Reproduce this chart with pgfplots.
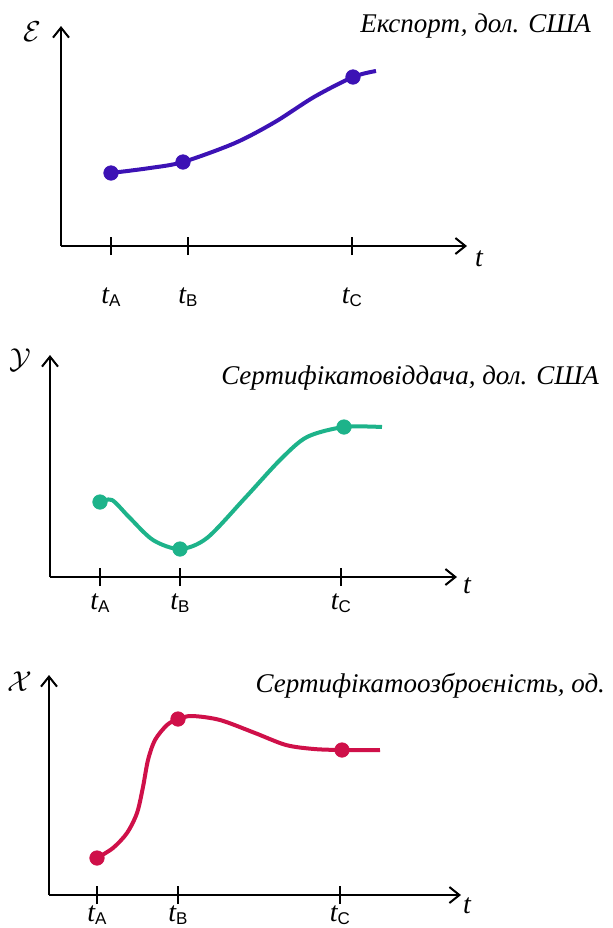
\documentclass[border=0pt]{standalone}
\usepackage{fontspec}
\setmainfont{Liberation Serif}
\setsansfont{Liberation Sans}
\usepackage{pgfplots}
\pgfplotsset{compat=1.18}
\usetikzlibrary{arrows.meta}

\definecolor{exportblue}{HTML}{3C12B5}
\definecolor{certgreen}{HTML}{1DB38A}
\definecolor{certred}{HTML}{CF1049}

\newcommand\tl[1]{{\fontsize{14}{14}\selectfont\textit{t}\kern-0.3pt\raisebox{-1.5pt}{\fontsize{8.5}{8.5}\sffamily #1}}}
\newcommand\ttl{\fontsize{13.5}{13.5}\selectfont\itshape}

\pgfplotsset{
  sketch/.style={
    scale only axis, anchor=south west, clip=false,
    axis lines*=left,
    axis line style={line width=1pt, black, -{Straight Barb[length=5pt,width=8pt,line width=1pt]}},
    xmin=0, ymin=0,
    ytick=\empty,
    tick align=center, major tick length=9pt,
    xtick style={line width=1pt, black},
    xticklabels={\tl{A},\tl{B},\tl{C}},
    xticklabel style={anchor=center},
  },
  curve/.style={line width=2pt, smooth},
  dots/.style={only marks, mark=*, mark size=3.6pt},
}

\begin{document}
\begin{tikzpicture}
\useasboundingbox (0,0) rectangle (306.5pt,-464pt);

% --- export
\begin{axis}[sketch, at={(30.5pt,-123pt)}, width=203pt, height=110pt,
  xmax=406, ymax=220, xtick={50,127,291},
  xticklabel style={yshift=-21pt}]
  \addplot[curve, exportblue] coordinates {(50,73) (89,78) (122,84) (174,103) (214,124) (253,149) (292,169) (315,175)};
  \addplot[dots, exportblue, mark options={fill=exportblue}] coordinates {(50,73) (122,84) (292,169)};
  \node at (axis cs:406,0) [xshift=6pt, yshift=-7pt] {\tl{}};
  \node at (axis cs:0,220) [xshift=-14.5pt, yshift=-3pt] {\fontsize{14}{14}\selectfont$\mathcal{E}$};
\end{axis}
\node[anchor=east] at (299pt,-13pt) {\ttl Експорт, дол. США};

% --- certificate return
\begin{axis}[sketch, at={(25pt,-288.5pt)}, width=203.5pt, height=111pt,
  xmax=407, ymax=222, xtick={50,130,291},
  xticklabel style={yshift=-8.5pt}]
  \addplot[curve, certgreen] coordinates {(50,75) (62,77) (79,60) (103,37) (130,28) (157,39) (195,79) (230,117) (257,140) (294,150) (332,150)};
  \addplot[dots, certgreen, mark options={fill=certgreen}] coordinates {(50,75) (130,28) (294,150)};
  \node at (axis cs:407,0) [xshift=5pt, yshift=-5pt] {\tl{}};
  \node at (axis cs:0,222) [xshift=-15pt, yshift=-2.5pt] {\fontsize{14}{14}\selectfont$\mathcal{Y}$};
\end{axis}
\node[anchor=east] at (303pt,-189pt) {\ttl Сертифікатовіддача, дол. США};

% --- certificate equipment
\begin{axis}[sketch, at={(24.5pt,-447.5pt)}, width=206pt, height=110pt,
  xmax=412, ymax=220, xtick={48,129,291},
  xticklabel style={yshift=-5.5pt}]
  \addplot[curve, certred] coordinates {(48,37) (64,47) (78,62) (88,82) (94,108) (99,135) (106,155) (118,170) (129,176) (143,179) (171,175) (206,162) (237,150) (265,146) (293,145) (331,145)};
  \addplot[dots, certred, mark options={fill=certred}] coordinates {(48,37) (129,176) (293,145)};
  \node at (axis cs:412,0) [xshift=3pt, yshift=-6pt] {\tl{}};
  \node at (axis cs:0,220) [xshift=-14.5pt, yshift=-3.5pt] {\fontsize{14}{14}\selectfont$\mathcal{X}$};
\end{axis}
\node[anchor=east] at (306pt,-343pt) {\ttl Сертифікатоозброєність, од.};
\end{tikzpicture}
\end{document}
